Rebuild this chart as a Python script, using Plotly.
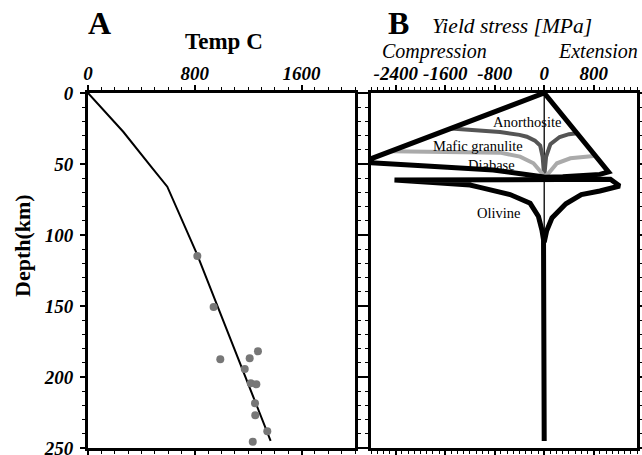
import plotly.graph_objects as go

# ---------------- data ----------------
# Panel A: temperature profile (Temp C vs depth km)
geotherm_T = [0, 264, 477, 539, 594, 814, 1039, 1368]
geotherm_D = [0, 27.3, 52.3, 59.4, 66, 112.9, 166.9, 244.9]

xenolith_T = [819, 941, 991, 1273, 1211, 1174, 1219, 1261, 1251, 1253, 1343, 1234]
xenolith_D = [114.8, 150.7, 187.5, 181.9, 186.8, 194.4, 204.4, 205.1, 218.5, 227, 238.2, 245.6]

tempA_ticks = [0, 800, 1600]
tempA_ticktext = ["0", "800", "1600"]
depth_ticks = [0, 50, 100, 150, 200, 250]

# Panel B: yield stress envelopes (MPa vs depth km); negative = compression
crust_s = [0, -281, -823, -1905, -2830, -2950, 0, 1040, 900, 600, 300, 0]
crust_d = [59.2, 57.3, 54.2, 51.4, 49.5, 48.8, 0, 55.5, 57.3, 58.5, 59.0, 59.3]

anor_s = [-1506, -1100, -714, -400, -281, -150, -65, -25, 0, 30, 100, 250, 400, 530]
anor_d = [25, 26.5, 27.5, 29.5, 30.8, 33.5, 37, 45, 59, 45, 36, 31, 29, 28.4]

mafic_s = [-2480, -1800, -1200, -714, -390, -173, -37, 0, 70, 206, 422, 800]
mafic_d = [41, 41.2, 41.5, 42, 44.8, 49.5, 56.5, 59, 56.5, 49.5, 46, 44.3]

olivine_s = [0, 0, -11, -37, -93, -227, -552, -1039, -1200, -1800, -2420,
             1070, 1220, 900, 600, 350, 125, 40, 0]
olivine_d = [245, 105, 103.5, 96.5, 87, 77.7, 71.5, 66.5, 64.8, 63, 61.3,
             60.8, 65.5, 69, 71.5, 78, 88, 97, 105]

axis0_s = [0, 0]
axis0_d = [0, 105]

stress_ticks = [-2400, -1600, -800, 0, 800]
stress_ticktext = ["-2400", "-1600", "-800", "0", "800"]

labelsB = ["Anorthosite", "Mafic granulite", "Diabase", "Olivine"]
labelsB_s = [-275, -1071, -849, -730]
labelsB_d = [20.4, 37.3, 50.6, 84.5]

# ---------------- figure ----------------
W, H = 642, 455
def px(x):
    return x / W
def py(y):
    return 1 - y / H

SERIF = "Liberation Serif"
fig = go.Figure()

# Panel A
fig.add_trace(go.Scatter(x=geotherm_T, y=geotherm_D, mode="lines",
                         line=dict(color="black", width=2),
                         xaxis="x", yaxis="y", showlegend=False))
fig.add_trace(go.Scatter(x=xenolith_T, y=xenolith_D, mode="markers",
                         marker=dict(color="#777777", size=8),
                         xaxis="x", yaxis="y", showlegend=False))

# Panel B
fig.add_trace(go.Scatter(x=axis0_s, y=axis0_d, mode="lines",
                         line=dict(color="black", width=1.3),
                         xaxis="x2", yaxis="y2", showlegend=False))
fig.add_trace(go.Scatter(x=anor_s, y=anor_d, mode="lines",
                         line=dict(color="#555555", width=4),
                         xaxis="x2", yaxis="y2", showlegend=False))
fig.add_trace(go.Scatter(x=mafic_s, y=mafic_d, mode="lines",
                         line=dict(color="#aaaaaa", width=4),
                         xaxis="x2", yaxis="y2", showlegend=False))
fig.add_trace(go.Scatter(x=crust_s, y=crust_d, mode="lines",
                         line=dict(color="black", width=5),
                         xaxis="x2", yaxis="y2", showlegend=False))
fig.add_trace(go.Scatter(x=olivine_s, y=olivine_d, mode="lines",
                         line=dict(color="black", width=5),
                         xaxis="x2", yaxis="y2", showlegend=False))

tickfont = dict(family=SERIF, size=19, color="black", weight="bold", style="italic")
common_axis = dict(showgrid=False, zeroline=False, showline=True, linecolor="black",
                   linewidth=3, mirror="allticks", ticks="outside", ticklen=5,
                   tickwidth=2, tickcolor="black", tickfont=tickfont,
                   automargin=False, ticklabeloverflow="allow")

xdomA = [px(88), px(355)]
xdomB = [px(371), px(637)]
ydom = [py(448), py(93)]

fig.update_layout(
    width=W, height=H,
    margin=dict(l=0, r=0, t=0, b=0),
    paper_bgcolor="white", plot_bgcolor="white",
    xaxis=dict(domain=xdomA, range=[0, 2000], side="top", anchor="y",
               tickmode="array", tickvals=tempA_ticks, ticktext=tempA_ticktext,
               ticklabelstandoff=-3,
               minor=dict(tickmode="linear", tick0=0, dtick=100, ticks="outside",
                          ticklen=3, tickwidth=1, tickcolor="black"),
               **common_axis),
    yaxis=dict(domain=ydom, range=[250, 0], anchor="x",
               tickmode="array", tickvals=depth_ticks,
               ticklabelstandoff=3,
               minor=dict(tickmode="linear", tick0=0, dtick=10, ticks="outside",
                          ticklen=3, tickwidth=1, tickcolor="black"),
               **common_axis),
    xaxis2=dict(domain=xdomB, range=[-2800, 1500], side="top", anchor="y2",
                tickmode="array", tickvals=stress_ticks, ticktext=stress_ticktext,
                ticklabelstandoff=-3,
                minor=dict(tickmode="linear", tick0=0, dtick=100, ticks="outside",
                           ticklen=3, tickwidth=1, tickcolor="black"),
                **common_axis),
    yaxis2=dict(domain=ydom, range=[250, 0], anchor="x2",
                tickmode="array", tickvals=depth_ticks, showticklabels=False,
                minor=dict(tickmode="linear", tick0=0, dtick=10, ticks="outside",
                           ticklen=3, tickwidth=1, tickcolor="black"),
                **common_axis),
)

ann = []
def paper_text(text, x, y, size, angle=0):
    ann.append(dict(text=text, x=px(x), y=py(y), xref="paper", yref="paper",
                    xanchor="center", yanchor="middle", showarrow=False,
                    textangle=angle,
                    font=dict(family=SERIF, size=size, color="black")))

paper_text("<b>A</b>", 99, 23, 32)
paper_text("<b>Temp C</b>", 224, 41, 23)
paper_text("<b>B</b>", 398, 23, 32)
paper_text("<i>Yield stress [MPa]</i>", 512, 26, 21.5)
paper_text("<i>Compression</i>", 434, 51, 20)
paper_text("<i>Extension</i>", 598, 51, 20)
paper_text("<b>Depth(km)</b>", 22, 245, 22, angle=-90)

for t, s, d in zip(labelsB, labelsB_s, labelsB_d):
    ann.append(dict(text=t, x=s, y=d, xref="x2", yref="y2", showarrow=False,
                    xanchor="center", yanchor="middle",
                    font=dict(family=SERIF, size=14.5, color="black")))

fig.update_layout(annotations=ann)
fig.write_html("out.html", config={"displayModeBar": False},
               post_script="document.body.style.margin='0px';document.body.style.overflow='hidden';")
